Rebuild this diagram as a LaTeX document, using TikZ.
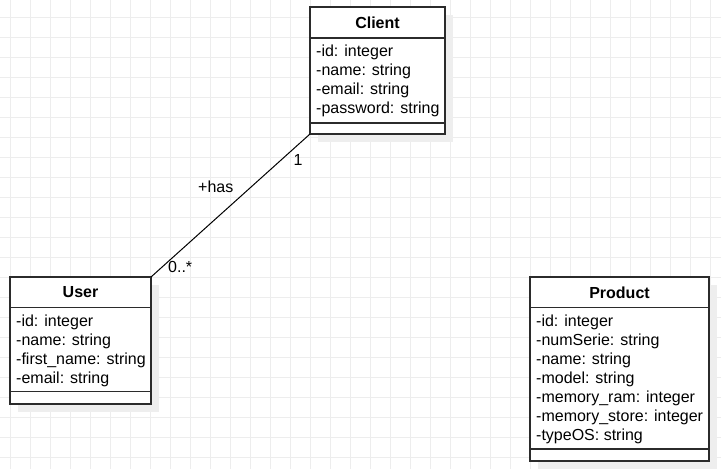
\documentclass[tikz,border=0pt]{standalone}
\usepackage{fontspec}
\setmainfont{Liberation Sans}
\usetikzlibrary{calc}
\definecolor{gridgray}{HTML}{EDEDED}
\definecolor{shadowgray}{HTML}{EEEEEE}
\definecolor{boxline}{HTML}{2B2B2B}
\begin{document}
\begin{tikzpicture}[x=1pt,y=-1pt,
  gridline/.style={draw=gridgray, line width=0.9pt},
  classbox/.style={draw=boxline, line width=1.4pt, fill=white, anchor=north west,
    inner sep=0pt, outer sep=0pt},
  classshadow/.style={fill=shadowgray, draw=none},
  divider/.style={draw=boxline, line width=1.2pt},
  classtitle/.style={font=\fontsize{16}{19}\selectfont\bfseries, anchor=base, inner sep=0pt},
  attr/.style={font=\fontsize{16}{19}\selectfont, anchor=base west, inner sep=0pt},
  assoc/.style={draw=black, line width=1pt},
  rolelabel/.style={font=\fontsize{16}{19}\selectfont, anchor=base west, inner sep=0pt}
]
\useasboundingbox (0,0) rectangle (721,469);
\fill[white] (0,0) rectangle (721,469);

% background grid
\foreach \gx in {10,30,...,710} \draw[gridline] (\gx,0) -- (\gx,469);
\foreach \gy in {17,37,...,457} \draw[gridline] (0,\gy) -- (721,\gy);

% drop shadows
\fill[classshadow] (318,15) rectangle (453,142);
\fill[classshadow] (18,285) rectangle (159,412);
\fill[classshadow] (538,285) rectangle (717,469);

% Client class
\node[classbox, minimum width=135, minimum height=127] (client) at (310,7) {};
\draw[divider] ($(client.north west)+(0,31)$) -- ($(client.north east)+(0,31)$);
\draw[divider] ($(client.south west)+(0,-11)$) -- ($(client.south east)+(0,-11)$);
\node[classtitle] (clienttitle) at (377.5,28) {Client};
\foreach \t [count=\i] in {-id: integer, -name: string, -email: string, -password: string}
  \node[attr] (clientattr\i) at (316,{56+19*(\i-1)}) {\t};

% User class
\node[classbox, minimum width=141, minimum height=127] (user) at (10,277) {};
\draw[divider] ($(user.north west)+(0,30.5)$) -- ($(user.north east)+(0,30.5)$);
\draw[divider] ($(user.south west)+(0,-12.5)$) -- ($(user.south east)+(0,-12.5)$);
\node[classtitle] (usertitle) at (80.5,297) {User};
\foreach \t [count=\i] in {-id: integer, -name: string, -first\_name: string, -email: string}
  \node[attr] (userattr\i) at (16,{326+19*(\i-1)}) {\t};

% Product class
\node[classbox, minimum width=179, minimum height=184] (product) at (530,277) {};
\draw[divider] ($(product.north west)+(0,30.5)$) -- ($(product.north east)+(0,30.5)$);
\draw[divider] ($(product.south west)+(0,-12)$) -- ($(product.south east)+(0,-12)$);
\node[classtitle] (producttitle) at (619.5,298) {Product};
\foreach \t [count=\i] in {-id: integer, -numSerie: string, -name: string, -model: string,
    -memory\_ram: integer, -memory\_store: integer, -typeOS: string}
  \node[attr] (productattr\i) at (536,{326+19*(\i-1)}) {\t};

% association between User and Client
\draw[assoc] (user.north east) -- (client.south west);
\node[rolelabel] (clientmult) at (293.5,165) {1};
\node[rolelabel] (assocname) at (198,192.5) {+has};
\node[rolelabel] (usermult) at (168,272) {0..*};
\end{tikzpicture}
\end{document}
